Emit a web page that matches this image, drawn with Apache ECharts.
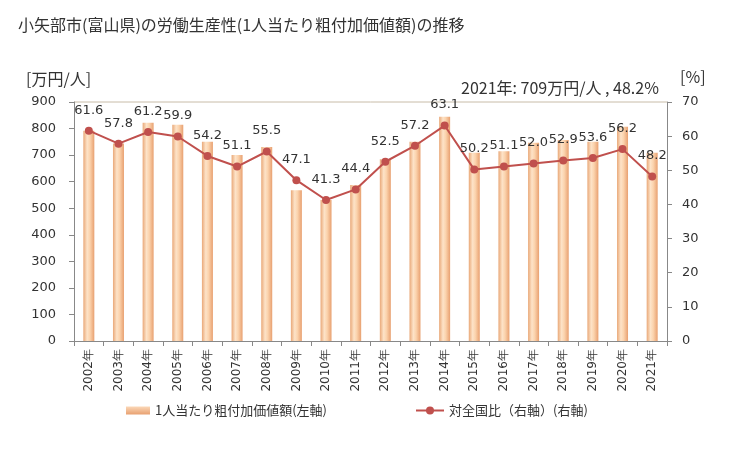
<!DOCTYPE html>
<html><head><meta charset="utf-8">
<script src="https://cdn.jsdelivr.net/npm/echarts@6/dist/echarts.min.js"></script>
<style>html,body{margin:0;padding:0;background:#fff}#c{width:729px;height:450px}</style>
</head><body><div id="c"></div>
<script>
const years = ['2002年','2003年','2004年','2005年','2006年','2007年','2008年','2009年','2010年','2011年','2012年','2013年','2014年','2015年','2016年','2017年','2018年','2019年','2020年','2021年'];
const valuePerWorker = [792,744,822,814,750,700,731,568,531,587,684,750,844,709,715,747,757,750,807,709];
const ratioToNation = [61.6,57.8,61.2,59.9,54.2,51.1,55.5,47.1,41.3,44.4,52.5,57.2,63.1,50.2,51.1,52.0,52.9,53.6,56.2,48.2];
const leftTicks = [0,100,200,300,400,500,600,700,800,900];
const rightTicks = [0,10,20,30,40,50,60,70];

const numFont = 'DejaVu Sans, Verdana, sans-serif';
const jpFont = '"Noto Sans CJK JP", sans-serif';
const chart = echarts.init(document.getElementById('c'));
const barGrad = new echarts.graphic.LinearGradient(0,0,1,0,[
  {offset:0,color:'#e9a878'},{offset:0.35,color:'#fde3c8'},{offset:0.6,color:'#fbd3ad'},{offset:1,color:'#e8a070'}]);
const legendGrad = new echarts.graphic.LinearGradient(0,0,0,1,[
  {offset:0,color:'#fbd8b8'},{offset:1,color:'#e8a070'}]);
chart.setOption({
  animation:false,
  textStyle:{fontFamily:jpFont},
  title:[
    {text:'小矢部市(富山県)の労働生産性(1人当たり粗付加価値額)の推移',left:13,top:12,textStyle:{fontSize:16,fontWeight:'normal',color:'#333',fontFamily:jpFont}},
    {text:'[万円/人]',left:21,top:66,textStyle:{fontSize:16,fontWeight:'normal',color:'#333',fontFamily:jpFont}},
    {text:'[%]',left:675,top:64,textStyle:{fontSize:16,fontWeight:'normal',color:'#333',fontFamily:jpFont}},
    {text:'2021年: 709万円/人 , 48.2%',left:456,top:75,textStyle:{fontSize:16,fontWeight:'normal',color:'#333',fontFamily:jpFont}}
  ],
  grid:{left:74,right:62,top:102,bottom:109},
  legend:[
    {top:399,left:121,textStyle:{fontSize:13,color:'#333',fontFamily:jpFont},
     data:[{name:'1人当たり粗付加価値額(左軸)',icon:'rect',itemStyle:{color:legendGrad}}],
     itemWidth:24,itemHeight:8,itemGap:4},
    {top:399,left:410,textStyle:{fontSize:13,color:'#333',fontFamily:jpFont},
     data:[{name:'対全国比（右軸）(右軸)'}],itemWidth:28,itemHeight:10}
  ],
  xAxis:{type:'category',data:years,
    axisLine:{lineStyle:{color:'#888'}},
    axisTick:{show:true,lineStyle:{color:'#888'},length:5},
    axisLabel:{rotate:90,fontSize:12,color:'#333',fontFamily:numFont,margin:8}},
  yAxis:[
    {type:'value',min:0,max:900,interval:100,position:'left',
     axisLine:{show:true,lineStyle:{color:'#888'}},axisTick:{show:true,length:5,lineStyle:{color:'#888'}},
     splitLine:{show:false},axisLabel:{fontSize:13,color:'#333',fontFamily:numFont,margin:18,
       formatter:v=>leftTicks.includes(v)?String(v):''}},
    {type:'value',min:0,max:70,interval:10,position:'right',
     axisLine:{show:true,lineStyle:{color:'#888'}},axisTick:{show:true,length:5,lineStyle:{color:'#888'}},
     splitLine:{show:false},axisLabel:{fontSize:13,color:'#333',fontFamily:numFont,margin:15,
       formatter:v=>rightTicks.includes(v)?String(v):''}}
  ],
  graphic:[{type:'line',shape:{x1:74,y1:102,x2:667,y2:102},style:{stroke:'#c8bca8',lineWidth:1}}],
  series:[
    {name:'1人当たり粗付加価値額(左軸)',type:'bar',data:valuePerWorker,barWidth:11,yAxisIndex:0,
     itemStyle:{color:barGrad}},
    {name:'対全国比（右軸）(右軸)',type:'line',data:ratioToNation,yAxisIndex:1,
     symbol:'circle',symbolSize:8,
     lineStyle:{color:'#c0504d',width:2},itemStyle:{color:'#c0504d'},
     label:{show:true,position:'top',distance:10,fontSize:13,color:'#333',fontFamily:numFont,
       formatter:p=>p.value.toFixed(1)}}
  ]
});
</script></body></html>
